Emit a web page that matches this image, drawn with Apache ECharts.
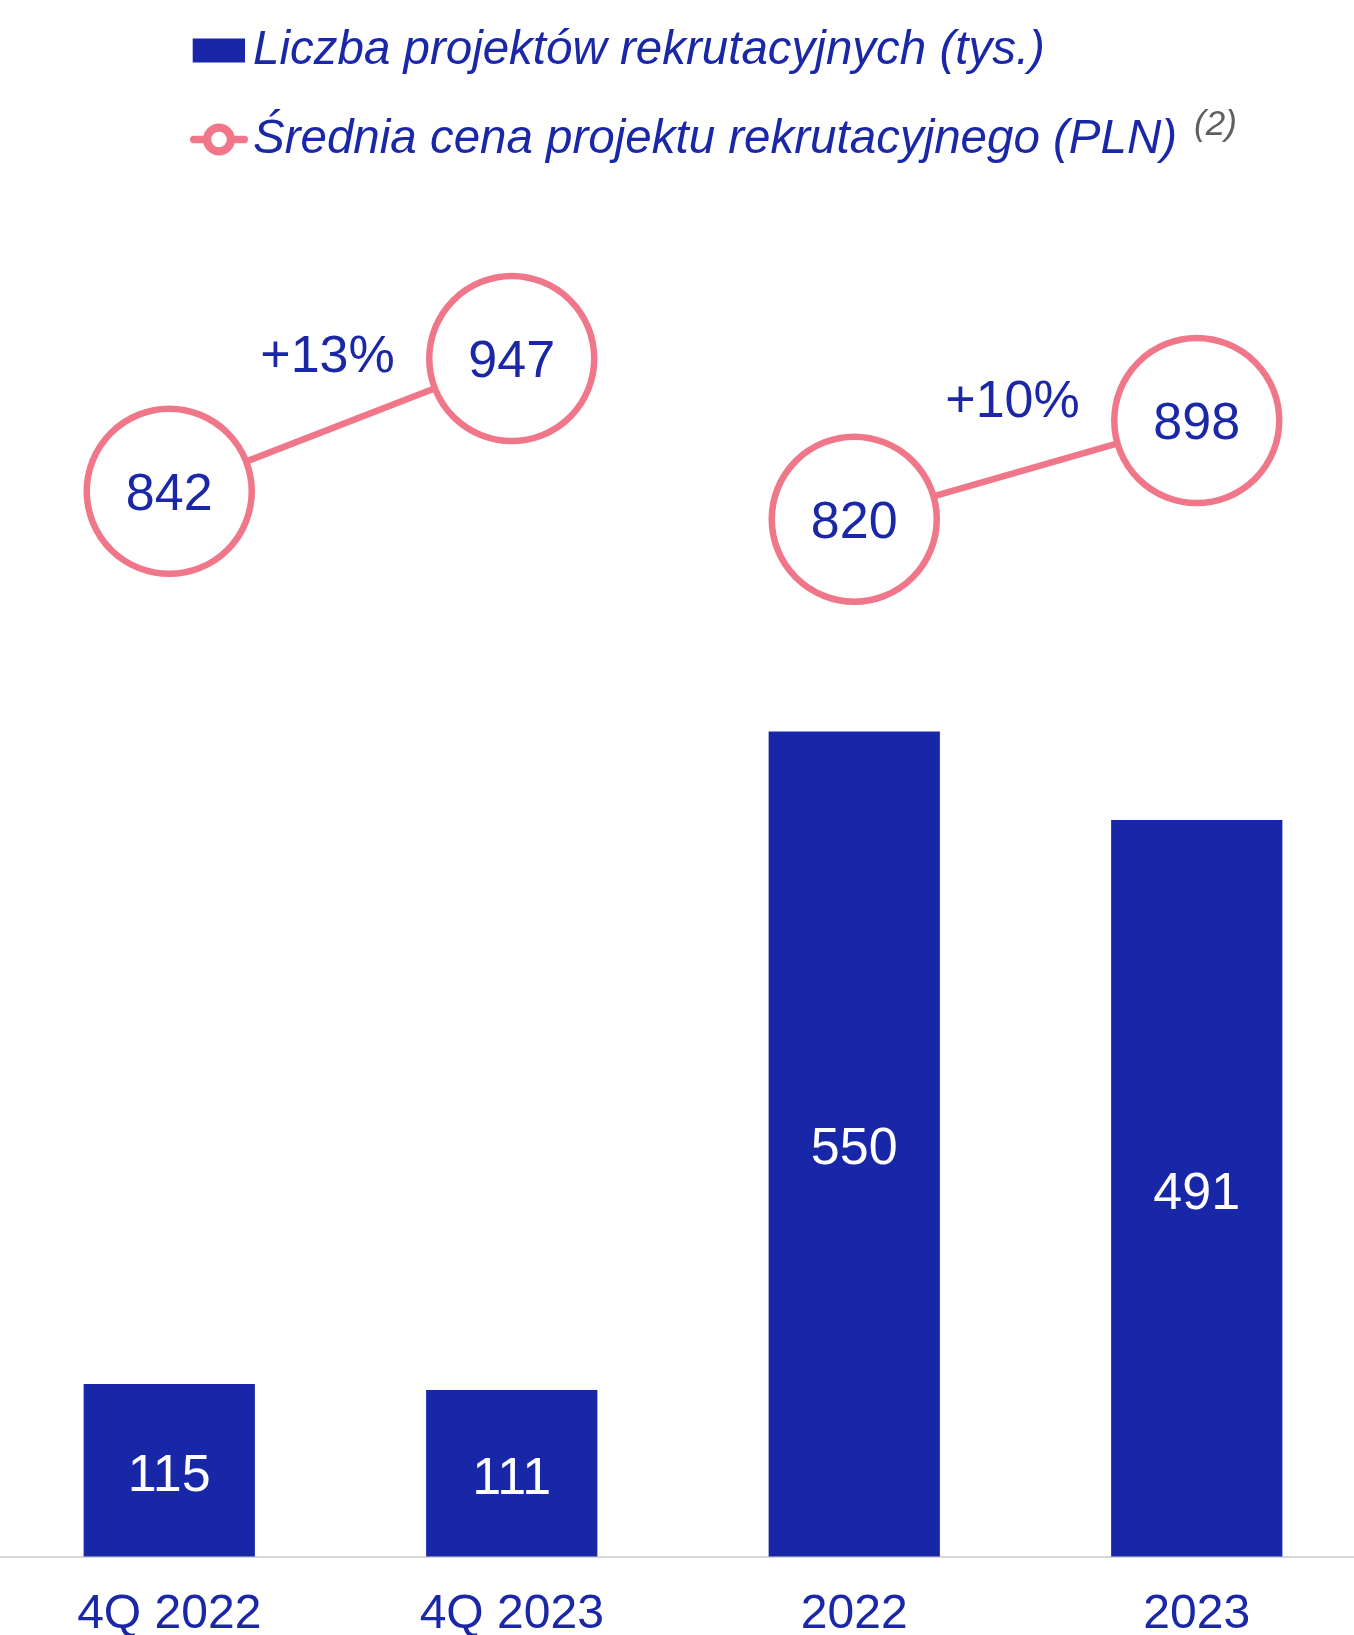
<!DOCTYPE html>
<html>
<head>
<meta charset="utf-8">
<title>Projekty rekrutacyjne</title>
<script src="https://cdn.jsdelivr.net/npm/echarts@6/dist/echarts.min.js"></script>
<style>
	html, body { margin: 0; padding: 0; background: #ffffff; }
	#wrap { position: relative; width: 1354px; height: 1635px; overflow: hidden; }
	/* wykres troche szerszy niz okno, zeby kategorie wypadly jak w oryginale */
	#chart { position: absolute; left: -2px; top: 0; width: 1370px; height: 1635px; }
</style>
</head>
<body>
<div id="wrap"><div id="chart"></div></div>
<script>
const categories = ['4Q 2022', '4Q 2023', '2022', '2023'];
const projects = [115, 111, 550, 491];           // tys.
const avgPriceQuarter = [842, 947, '-', '-'];    // PLN
const avgPriceYear = ['-', '-', 820, 898];       // PLN
const changeLabels = ['+13%', '+10%'];
const changePairs = [[0, 1], [2, 3]];

const barName = 'Liczba projektów rekrutacyjnych (tys.)';
const lineName = 'Średnia cena projektu rekrutacyjnego (PLN)';

const BLUE = '#1826A8';
const TEXT = '#1A27A6';
const PINK = '#F07789';
const FONT = '"Liberation Sans", Arial, sans-serif';

// ikony legendy (58x32)
const rectIcon = 'path://M0,0h0.01v0.01h-0.01Z M57.99,31.99h0.01v0.01h-0.01Z M2.7,4H55V28H2.7Z';
const ringIcon = 'path://M3.6,12.35H16V19.65H3.6A3.65,3.65 0 0 1 3.6,12.35Z'
	+ 'M42,12.35H54.4A3.65,3.65 0 0 1 54.4,19.65H42Z'
	+ 'M13,16A16,16 0 1 1 45,16A16,16 0 1 1 13,16Z'
	+ 'M21.2,16A7.8,7.8 0 1 0 36.8,16A7.8,7.8 0 1 0 21.2,16Z';

const chart = echarts.init(document.getElementById('chart'));

function lineSeries(data){
	return {
		name: lineName,
		type: 'line',
		yAxisIndex: 1,
		data: data,
		clip: false,
		symbol: 'circle',
		symbolSize: 165,
		lineStyle: { color: PINK, width: 6.5 },
		itemStyle: { color: '#ffffff', borderColor: PINK, borderWidth: 6.5 },
		label: {
			show: true,
			position: 'inside',
			offset: [0, 4],
			color: TEXT,
			fontSize: 52,
			fontFamily: FONT
		},
		emphasis: { disabled: true },
		z: 3
	}
}

let option = {
	animation: false,
	textStyle: { fontFamily: FONT },
	legend: {
		orient: 'vertical',
		left: 187,
		top: 21.5,
		itemGap: 33,
		itemWidth: 58,
		itemHeight: 32,
		data: [
			{ name: barName, icon: rectIcon, itemStyle: { color: BLUE, borderWidth: 0 } },
			{ name: lineName, icon: ringIcon, itemStyle: { color: PINK, borderWidth: 0 } }
		],
		formatter: function (name) {
			if (name === lineName) {
				return '{b|' + name + '}{sup|(2)}'
			}
			return '{a|' + name + '}'
		},
		textStyle: {
			rich: {
				a: { fontSize: 47.5, lineHeight: 47, fontStyle: 'italic', color: TEXT, fontFamily: FONT },
				b: { fontSize: 47.5, lineHeight: 64, fontStyle: 'italic', color: TEXT, fontFamily: FONT },
				sup: { fontSize: 35, lineHeight: 36, fontStyle: 'italic', color: '#5F5F5F', fontFamily: FONT, verticalAlign: 'top', padding: [0, 0, 0, 17] }
			}
		}
	},
	grid: {
		left: 0,
		right: 0,
		top: 356.5,
		bottom: 78.5,
		containLabel: false,
		outerBoundsMode: 'none'  // etykiety osi moga wychodzic poza dol
	},
	xAxis: {
		type: 'category',
		data: categories,
		axisTick: { show: false },
		axisLine: { lineStyle: { color: '#D6D6D6', width: 2 } },
		axisLabel: { color: TEXT, fontSize: 48, fontFamily: FONT, margin: 34 }
	},
	yAxis: [
		{ type: 'value', min: 0, max: 800, show: false, splitLine: { show: false } },
		{ type: 'value', min: 0, max: 948.6, show: false, splitLine: { show: false } }
	],
	series: [
		{
			name: barName,
			type: 'bar',
			data: projects,
			barWidth: '50%',
			itemStyle: { color: BLUE },
			label: {
				show: true,
				position: 'inside',
				offset: [0, 6],
				color: '#ffffff',
				fontSize: 52,
				fontFamily: FONT
			},
			emphasis: { disabled: true }
		},
		lineSeries(avgPriceQuarter),
		lineSeries(avgPriceYear)
	]
};

chart.setOption(option);

// procentowe zmiany nad odcinkami linii
const prices = [842, 947, 820, 898];
const graphics = changePairs.map((pair, i) => {
	const sIdx = i === 0 ? 1 : 2
	const a = chart.convertToPixel({ seriesIndex: sIdx }, [pair[0], prices[pair[0]]])
	const b = chart.convertToPixel({ seriesIndex: sIdx }, [pair[1], prices[pair[1]]])
	return {
		type: 'text',
		x: (a[0] + b[0]) / 2 - 13,
		y: (a[1] + b[1]) / 2 - 67,
		style: {
			text: changeLabels[i],
			fill: TEXT,
			fontSize: 52,
			fontFamily: FONT,
			align: 'center',
			verticalAlign: 'middle'
		}
	}
})
chart.setOption({ graphic: graphics });
</script>
</body>
</html>
